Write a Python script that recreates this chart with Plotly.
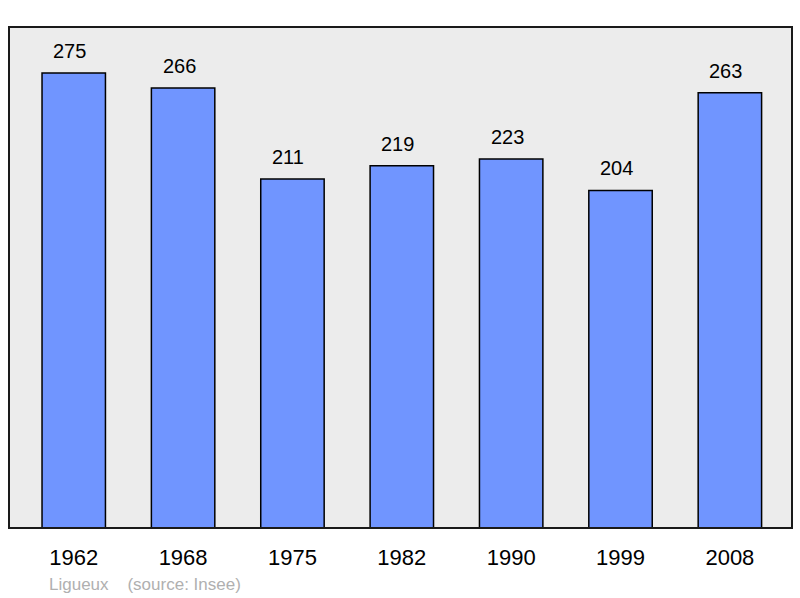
import plotly.graph_objects as go

# Population figures per census year
years = ["1962", "1968", "1975", "1982", "1990", "1999", "2008"]
population = [275, 266, 211, 219, 223, 204, 263]

BAR_COLOR = "#7095ff"
FONT = "Liberation Sans, Arial, sans-serif"

fig = go.Figure(go.Bar(
    x=years,
    y=population,
    width=0.58,
    marker=dict(color=BAR_COLOR, line=dict(color="black", width=1.5)),
    hoverinfo="x+y",
))

# value labels above the bars (category index as x), nudged a bit left like the original
for i, val in enumerate(population):
    fig.add_annotation(
        x=i, y=val, text=str(val), showarrow=False,
        yanchor="bottom", yshift=9, xshift=-4,
        font=dict(family=FONT, size=20, color="black"),
    )

# footer note
fig.add_annotation(
    xref="paper", yref="paper", x=0.049, y=-0.112,
    xanchor="left", yanchor="middle", showarrow=False,
    text="Ligueux&nbsp;&nbsp;&nbsp;&nbsp;(source: Insee)",
    font=dict(family=FONT, size=17, color="#b0b0b0"),
)

# frame around the plot area
fig.add_shape(
    type="rect", xref="paper", yref="paper", x0=0, x1=1, y0=0, y1=1,
    line=dict(color="#1a1a1a", width=2), layer="above",
)

fig.update_layout(
    width=800,
    height=598,
    margin=dict(l=9, r=8, t=27, b=70),
    paper_bgcolor="white",
    plot_bgcolor="#ececec",
    showlegend=False,
    xaxis=dict(
        type="category",
        range=[-0.592, 6.568], showgrid=False, zeroline=False, showline=False,
        ticks="", ticklabelstandoff=14,
        tickfont=dict(family=FONT, size=22, color="black"),
    ),
    yaxis=dict(
        range=[0, 302.8], showgrid=False, zeroline=False, showline=False,
        showticklabels=False, ticks="",
    ),
)

fig.write_html(
    "out.html",
    config={"displayModeBar": False},
    post_script="document.body.style.margin='0';",
)
